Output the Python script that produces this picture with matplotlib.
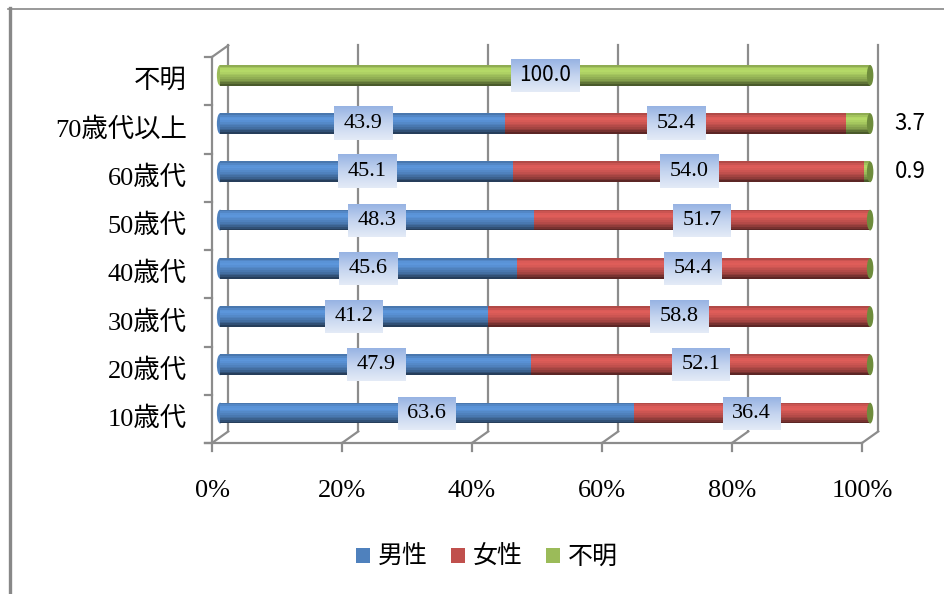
import numpy as np
import matplotlib
matplotlib.use("Agg")
import matplotlib.pyplot as plt
from matplotlib.colors import to_rgb, LinearSegmentedColormap
from matplotlib.patches import Ellipse, Patch
from matplotlib.lines import Line2D

# 年代別の男女比（%）
categories = ["10歳代", "20歳代", "30歳代", "40歳代", "50歳代", "60歳代", "70歳代以上", "不明"]
male = [63.6, 47.9, 41.2, 45.6, 48.3, 45.1, 43.9, 0.0]
female = [36.4, 52.1, 58.8, 54.4, 51.7, 54.0, 52.4, 0.0]
unknown = [0.0, 0.0, 0.0, 0.0, 0.0, 0.9, 3.7, 100.0]
series_names = ["男性", "女性", "不明"]
xticks = [0, 20, 40, 60, 80, 100]
xtick_labels = ["0%", "20%", "40%", "60%", "80%", "100%"]

colors = ["#4f81bd", "#c0504d", "#9bbb59"]
grid_c = "#8c8c8c"
serif = ["Liberation Serif", "Noto Sans CJK JP"]
gothic = ["Noto Sans CJK JP", "DejaVu Sans"]

# 奥行き（3D風）のずらし量：x は %、y はカテゴリ単位
DX, DY = 2.5, 0.24
H = 0.43
PX_X = 6.5     # 1% あたりのピクセル
PX_Y = 48.25   # 1カテゴリあたりのピクセル

# 円柱の陰影（上から下へ）
shade = [0.92, 1.05, 1.14, 1.16, 1.12, 1.06, 1.0, 0.93, 0.85, 0.75, 0.62, 0.48]
label_cmap = LinearSegmentedColormap.from_list("lbl", ["#97b3e3", "#c4d4ef", "#e4ebf7"])
grad = np.linspace(0, 1, 64).reshape(-1, 1)


def tone(c, k):
    r, g, b = to_rgb(c)
    return tuple(min(1.0, v * k) for v in (r, g, b))


fig = plt.figure(figsize=(9.44, 5.94), dpi=100)
ax = fig.add_axes([212 / 944, (594 - 443) / 594, 650 / 944, 386 / 594])
ax.axis("off")

y = np.arange(len(categories))
ymid = y + DY / 2

# 奥の壁の目盛線と床の斜線
for t, lab in zip(xticks, xtick_labels):
    ax.plot([t + DX, t + DX], [-0.5 + DY, 7.5 + DY], color=grid_c, lw=1.6, clip_on=False, zorder=1)
    ax.plot([t, t + DX], [-0.5, -0.5 + DY], color=grid_c, lw=1.6, clip_on=False, zorder=1)
    ax.plot([t, t], [-0.5, -0.67], color=grid_c, lw=1.6, clip_on=False, zorder=1)
    ax.text(t, -1.5, lab, ha="center", va="center", fontsize=19, family=serif)

# 手前の軸線
ax.plot([0, 0], [-0.5, 7.5], color=grid_c, lw=1.6, clip_on=False, zorder=1)
ax.plot([-1.1, 100], [-0.5, -0.5], color=grid_c, lw=1.6, clip_on=False, zorder=1)
ax.plot([0, DX], [7.5, 7.5 + DY], color=grid_c, lw=1.6, clip_on=False, zorder=1)
for b in np.arange(-0.5, 8.0, 1.0):
    ax.plot([-1.1, 0], [b, b], color=grid_c, lw=1.6, clip_on=False, zorder=1)

for i, name in enumerate(categories):
    ax.text(-3.9, i, name, ha="right", va="center", fontsize=19, family=serif)

# 積み上げ円柱
lefts = np.zeros(len(categories))
n = len(shade)
for vals, c in zip([male, female, unknown], colors):
    vals = np.array(vals)
    for j, k in enumerate(shade):
        yj = ymid + H / 2 - (j + 0.5) * H / n
        ax.barh(yj, vals, left=lefts + DX / 2, height=H / n * 1.02, color=tone(c, k),
                linewidth=0, zorder=3, clip_on=False)
    lefts = lefts + vals

# 両端の丸み
first_color = [colors[0] if m > 0 else colors[2] for m in male]
for i in range(len(categories)):
    ax.add_patch(Ellipse((DX / 2, ymid[i]), 1.0, H, color=tone(first_color[i], 1.0),
                         zorder=2.9, lw=0, clip_on=False))
    ax.add_patch(Ellipse((100 + DX / 2, ymid[i]), 1.0, H, color="#6e8c3c",
                         zorder=4, lw=0, clip_on=False))


def boxed_label(x, yc, text, family, size):
    # グラデーションの背景付きラベル
    w = (58 if len(text) <= 4 else 69) / PX_X
    h = 33 / PX_Y
    ax.imshow(grad, cmap=label_cmap, aspect="auto", zorder=5, clip_on=False,
              extent=(x - w / 2, x + w / 2, yc - h / 2, yc + h / 2), origin="upper")
    ax.text(x, yc, text, ha="center", va="center", fontsize=size, family=family, zorder=6)


# データラベル
for i in range(len(categories)):
    if male[i] > 0:
        boxed_label(DX / 2 + male[i] / 2, ymid[i], f"{male[i]:.1f}", serif, 16)
    if female[i] > 0:
        boxed_label(DX / 2 + male[i] + female[i] / 2, ymid[i], f"{female[i]:.1f}", serif, 16)
    if unknown[i] >= 50:
        boxed_label(DX / 2 + male[i] + female[i] + unknown[i] / 2, ymid[i],
                    f"{unknown[i]:.1f}", gothic, 15)
    elif unknown[i] > 0:
        ax.text(107.4, ymid[i], f"{unknown[i]:.1f}", ha="center", va="center",
                fontsize=16, family=gothic, zorder=6)

ax.set_xlim(0, 100)
ax.set_ylim(-0.5, 7.5)

# 凡例
handles = [Patch(facecolor=c, edgecolor="none") for c in colors]
fig.legend(handles, series_names, loc="center", bbox_to_anchor=(487 / 944, 1 - 557 / 594),
           ncol=3, frameon=False, handlelength=0.55, handleheight=0.55, handletextpad=0.35,
           columnspacing=0.9, prop={"family": gothic, "size": 18})

# 外枠
fig.add_artist(Line2D([8 / 944, 1.0], [1 - 8.5 / 594, 1 - 8.5 / 594], color="#888888", lw=1.2))
fig.add_artist(Line2D([9.5 / 944, 9.5 / 944], [0.0, 1 - 8 / 594], color="#888888", lw=2.4))

fig.savefig("out.png", dpi=100, facecolor="white")
